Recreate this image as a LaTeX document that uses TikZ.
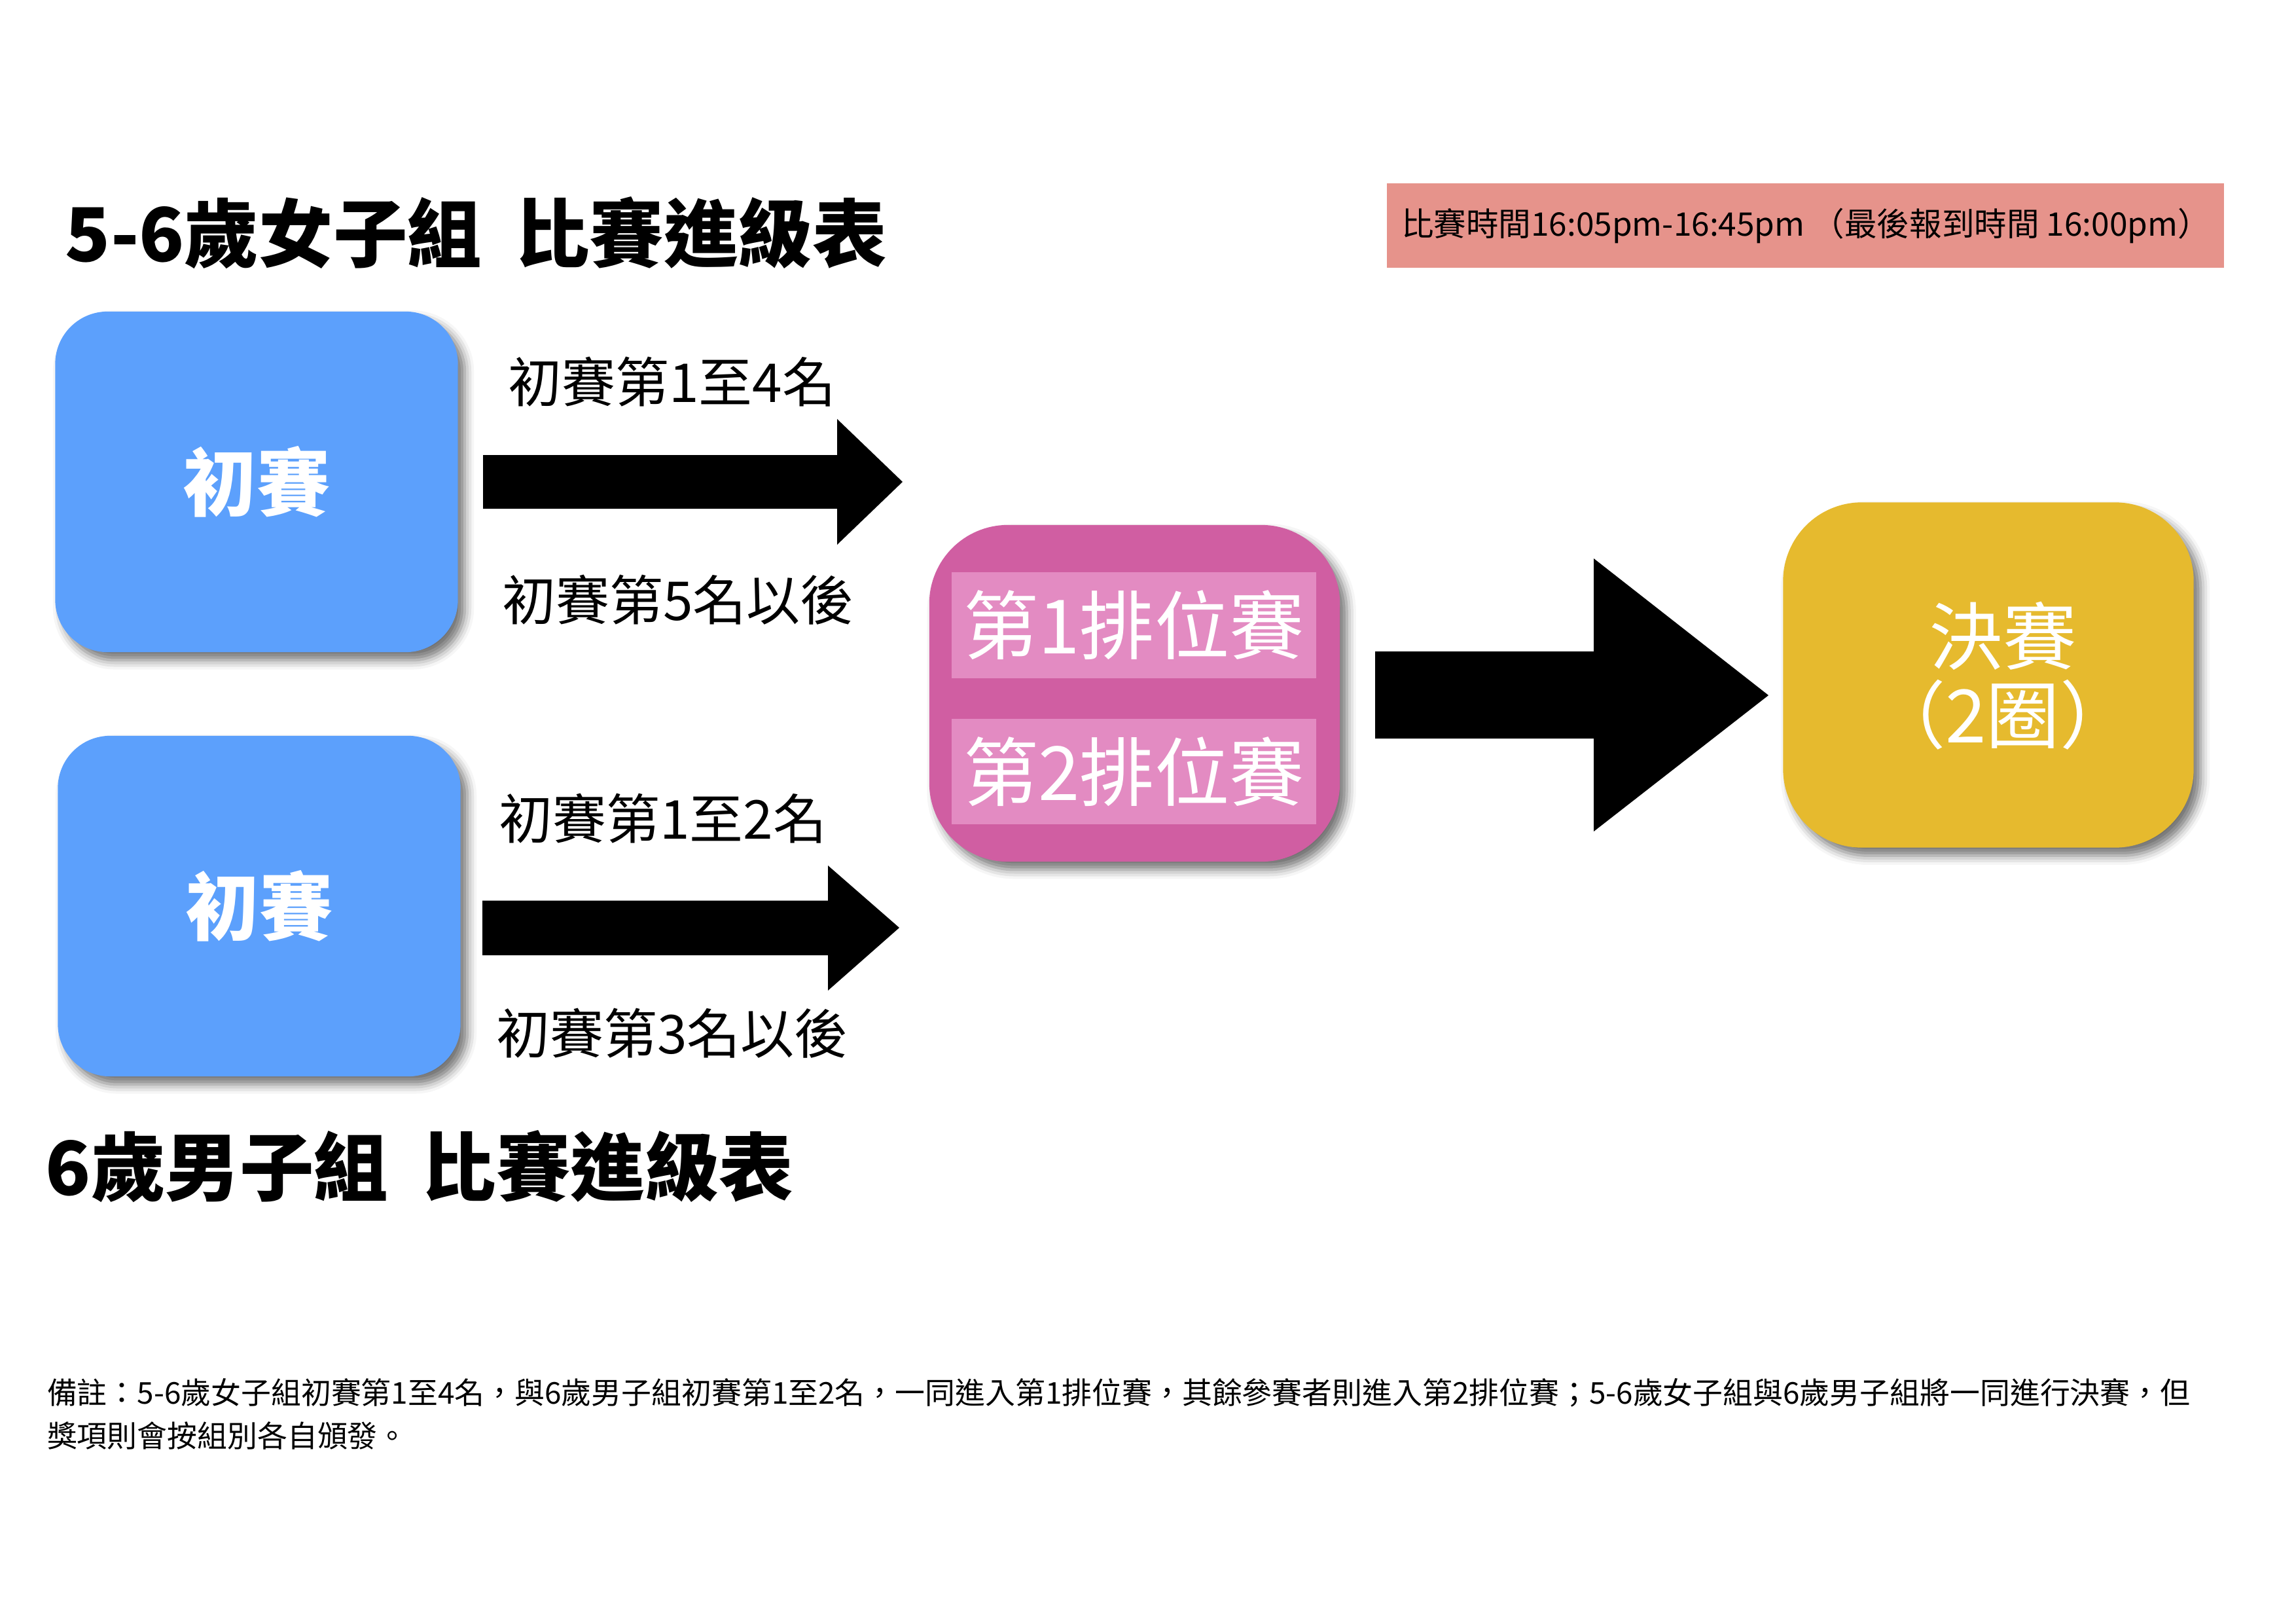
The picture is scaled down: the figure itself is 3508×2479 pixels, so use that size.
\documentclass[tikz,border=0pt]{standalone}
\usepackage{fontspec}
\setmainfont{Noto Sans CJK TC}
\usetikzlibrary{shadows.blur}
\definecolor{boxblue}{RGB}{92,160,252}
\definecolor{boxpink}{RGB}{208,94,162}
\definecolor{barpink}{RGB}{227,139,194}
\definecolor{boxyellow}{RGB}{230,186,46}
\definecolor{headred}{RGB}{230,147,139}
\begin{document}
\begin{tikzpicture}[x=0.01cm,y=-0.01cm,
  every node/.style={inner sep=0pt, outer sep=0pt},
  shadowed/.style={blur shadow={shadow xshift=3pt, shadow yshift=-3.5pt, shadow blur radius=4pt, shadow opacity=55}},
  bluebox/.style={shadowed, fill=boxblue, rounded corners=0.8cm, minimum width=6.15cm, minimum height=5.2cm,
    text=white, font=\fontsize{32}{36}\selectfont\bfseries},
  pinkbox/.style={shadowed, fill=boxpink, rounded corners=1.2cm, minimum width=6.27cm, minimum height=5.14cm},
  barbox/.style={fill=barpink, minimum width=5.57cm, minimum height=1.61cm, text=white, font=\fontsize{32.5}{36}\selectfont},
  yellowbox/.style={shadowed, fill=boxyellow, rounded corners=1.2cm, minimum width=6.27cm, minimum height=5.27cm},
  title/.style={anchor=west, font=\fontsize{32.3}{36}\selectfont\bfseries},
  lbl/.style={font=\fontsize{23.3}{26}\selectfont},
  note/.style={anchor=west, font=\fontsize{13.05}{18}\selectfont},
  blockarrow/.style={fill=black}]
\useasboundingbox (0,0) rectangle (3508,2479);

% titles
\node[title] (t1) at (100,356) {5-6歲女子組\hspace{0.45em}比賽進級表};
\node[title] (t2) at (70,1782) {6歲男子組\hspace{0.45em}比賽進級表};

% header time box
\node[fill=headred, minimum width=12.79cm, minimum height=1.29cm] (hdr) at (2758.5,344.5) {};
\node[anchor=west, font=\fontsize{14.1}{17}\selectfont] (hdrtext) at (2141,345) {比賽時間16:05pm-16:45pm （最後報到時間 16:00pm）};

% preliminary boxes
\node[bluebox] (p1) at (392,736) {初賽};
\node[bluebox] (p2) at (396,1384) {初賽};

% ranking box
\node[pinkbox] (rk) at (1733.5,1059) {};
\node[barbox] (r1) at (1732.5,955) {第1排位賽};
\node[barbox] (r2) at (1732.5,1178.5) {第2排位賽};

% final box
\node[yellowbox] (fin) at (3038,1031) {};
\node[text=white, align=center, font=\fontsize{32}{34}\selectfont] (fintext) at (3060,1032) {決賽\\（2圈）};

% arrow labels
\node[lbl] (l1) at (1027,583) {初賽第1至4名};
\node[lbl] (l2) at (1036,916) {初賽第5名以後};
\node[lbl] (l3) at (1013,1250) {初賽第1至2名};
\node[lbl] (l4) at (1027,1578) {初賽第3名以後};

% block arrows
\coordinate (a1) at (738,736);
\coordinate (a2) at (737,1417);
\coordinate (a3) at (2101,1062);
\fill[blockarrow] (a1) ++(0,-41) -- ++(541,0) -- ++(0,-55) -- (1379,736) -- (1279,832) -- ++(0,-55) -- ++(-541,0) -- cycle;
\fill[blockarrow] (a2) ++(0,-41.5) -- ++(528,0) -- ++(0,-53.5) -- (1374,1417) -- (1265,1513) -- ++(0,-54) -- ++(-528,0) -- cycle;
\fill[blockarrow] (a3) ++(0,-67) -- ++(334,0) -- ++(0,-142) -- (2702,1062) -- (2435,1270) -- ++(0,-142) -- ++(-334,0) -- cycle;

% note
\node[note] (n1) at (72,2127) {備註：5-6歲女子組初賽第1至4名，與6歲男子組初賽第1至2名，一同進入第1排位賽，其餘參賽者則進入第2排位賽；5-6歲女子組與6歲男子組將一同進行決賽，但};
\node[note] (n2) at (72,2193) {獎項則會按組別各自頒發。};
\end{tikzpicture}
\end{document}
